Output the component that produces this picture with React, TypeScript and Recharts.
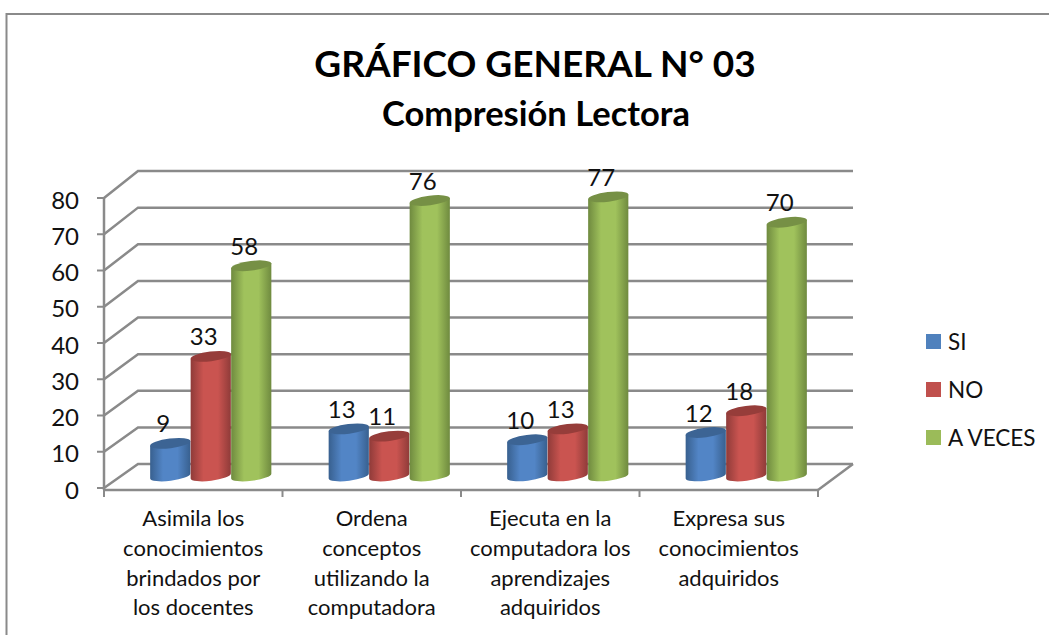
import React from 'react';
import { BarChart, Bar, XAxis, YAxis, CartesianGrid, Legend, LabelList } from 'recharts';

const categories = [
  'Asimila los\nconocimientos\nbrindados por\nlos docentes',
  'Ordena\nconceptos\nutilizando la\ncomputadora',
  'Ejecuta en la\ncomputadora los\naprendizajes\nadquiridos',
  'Expresa sus\nconocimientos\nadquiridos',
];
const siValues = [9, 13, 10, 12];
const noValues = [33, 11, 13, 18];
const aVecesValues = [58, 76, 77, 70];
const yTicks = [0, 10, 20, 30, 40, 50, 60, 70, 80];

const data = categories.map((name, i) => ({
  name,
  SI: siValues[i],
  NO: noValues[i],
  'A VECES': aVecesValues[i],
}));

const FONT = 'Lato, "Open Sans", sans-serif';
const GRAY = '#8a8a8a';
const DEPTH_X = 17;
const DEPTH_Y = 12;
const TILT = -7;
const BAND = 178.5;

function Cylinder(props: any) {
  const { x, y, width, height, gradId, topFill } = props;
  const w = width;
  const rx = w / 2;
  const ry = 4.8;
  const cx = x + w / 2 + DEPTH_X;
  const top = y - DEPTH_Y;
  const bottom = y + height - DEPTH_Y;
  const rad = (TILT * Math.PI) / 180;
  const dx = rx * Math.cos(rad);
  const dy = rx * Math.sin(rad);
  const body = `M ${cx - dx} ${top - dy} L ${cx - dx} ${bottom - dy} A ${rx} ${ry} ${TILT} 0 0 ${cx + dx} ${bottom + dy} L ${cx + dx} ${top + dy} Z`;
  return (
    <g>
      <path d={body} fill={`url(#${gradId})`} />
      <ellipse cx={cx} cy={top} rx={rx} ry={ry} fill={topFill} transform={`rotate(${TILT} ${cx} ${top})`} />
    </g>
  );
}

function GridLine(props: any) {
  const { x1, y1, x2 } = props;
  const backY = y1 - 24 - (488 - y1) * 0.0103;
  return (
    <polyline
      points={`${x1},${y1} ${x1 + 34},${backY} ${x2 + 35},${backY}`}
      fill="none"
      stroke={GRAY}
      strokeWidth={2.5}
    />
  );
}

function CategoryTick(props: any) {
  const { x, payload, index } = props;
  const lines = String(payload.value).split('\n');
  const left = x - BAND / 2;
  const right = x + BAND / 2;
  const axisY = 490;
  return (
    <g>
      <line x1={left} y1={axisY} x2={left} y2={axisY + 7} stroke={GRAY} strokeWidth={2} />
      {index === categories.length - 1 && (
        <>
          <line x1={right} y1={axisY} x2={right} y2={axisY + 7} stroke={GRAY} strokeWidth={2} />
          <line x1={right} y1={axisY} x2={right + 35} y2={axisY - 26} stroke={GRAY} strokeWidth={2.5} />
        </>
      )}
      <text textAnchor="middle" fontFamily={FONT} fontSize={22} fill="#111">
        {lines.map((line, i) => (
          <tspan key={i} x={x} y={axisY + 36 + i * 29.8}>
            {line}
          </tspan>
        ))}
      </text>
    </g>
  );
}

function ValueLabel(props: any) {
  const { x, y, width, value } = props;
  return (
    <text
      x={x + width / 2 + 10}
      y={y - 32.5}
      textAnchor="middle"
      dominantBaseline="central"
      fontFamily={FONT}
      fontSize={24}
      fill="#111"
    >
      {value}
    </text>
  );
}

function LegendList(props: any) {
  const { payload } = props;
  return (
    <div>
      {(payload || []).map((p: any) => (
        <div key={p.value} style={{ display: 'flex', alignItems: 'center', height: 48, fontFamily: FONT, fontSize: 22.5, color: '#111' }}>
          <span style={{ width: 15, height: 15, background: p.color, marginRight: 7, display: 'inline-block' }} />
          {p.value}
        </div>
      ))}
    </div>
  );
}

function Gradient({ id, edge, mid }: { id: string; edge: string; mid: string }) {
  return (
    <linearGradient id={id} x1="0" y1="0" x2="1" y2="0">
      <stop offset="0%" stopColor={edge} />
      <stop offset="32%" stopColor={mid} />
      <stop offset="68%" stopColor={mid} />
      <stop offset="100%" stopColor={edge} />
    </linearGradient>
  );
}

export default function App() {
  return (
    <div style={{ position: 'absolute', left: 0, top: 0, width: 1049, height: 635, background: '#fff' }}>
      <BarChart
        width={1049}
        height={635}
        data={data}
        margin={{ top: 198, left: 0, right: 111, bottom: 0 }}
        barSize={40.5}
        barGap={0}
      >
        <defs>
          <Gradient id="gBlue" edge="#38608f" mid="#5285c6" />
          <Gradient id="gRed" edge="#8f3b39" mid="#ca5450" />
          <Gradient id="gGreen" edge="#6f8a3f" mid="#a0c25c" />
        </defs>
        <rect x={6.5} y={14} width={1060} height={640} fill="none" stroke={GRAY} strokeWidth={2} />
        <text x={535} y={62} textAnchor="middle" dominantBaseline="central" fontFamily={FONT} fontWeight={700} fontSize={37} fill="#000">
          GRÁFICO GENERAL N° 03
        </text>
        <text x={536} y={112} textAnchor="middle" dominantBaseline="central" fontFamily={FONT} fontWeight={700} fontSize={34.5} fill="#000">
          Compresión Lectora
        </text>
        <CartesianGrid syncWithTicks vertical={false} horizontal={(p: any) => <GridLine {...p} />} />
        <XAxis
          dataKey="name"
          interval={0}
          axisLine={{ stroke: GRAY, strokeWidth: 2.5 }}
          tickLine={false}
          tick={(p: any) => <CategoryTick {...p} />}
          height={145}
        />
        <YAxis
          domain={[0, 80]}
          ticks={yTicks}
          interval={0}
          padding={{ bottom: 2 }}
          width={104}
          axisLine={{ stroke: GRAY, strokeWidth: 2.5 }}
          tickLine={{ stroke: GRAY, strokeWidth: 2 }}
          tickSize={7}
          tickMargin={18}
          tick={{ fontFamily: FONT, fontSize: 24, fill: '#111', dy: 2 }}
        />
        <Legend
          layout="vertical"
          align="right"
          verticalAlign="top"
          itemSorter={null}
          wrapperStyle={{ left: 926, top: 317, width: 120 }}
          content={(p: any) => <LegendList {...p} />}
        />
        <Bar dataKey="SI" fill="#4F81BD" isAnimationActive={false} shape={(p: any) => <Cylinder {...p} gradId="gBlue" topFill="#3c6494" />}>
          <LabelList dataKey="SI" content={(p: any) => <ValueLabel {...p} />} />
        </Bar>
        <Bar dataKey="NO" fill="#C0504D" isAnimationActive={false} shape={(p: any) => <Cylinder {...p} gradId="gRed" topFill="#963d3a" />}>
          <LabelList dataKey="NO" content={(p: any) => <ValueLabel {...p} />} />
        </Bar>
        <Bar dataKey="A VECES" fill="#9BBB59" isAnimationActive={false} shape={(p: any) => <Cylinder {...p} gradId="gGreen" topFill="#769045" />}>
          <LabelList dataKey="A VECES" content={(p: any) => <ValueLabel {...p} />} />
        </Bar>
      </BarChart>
    </div>
  );
}
